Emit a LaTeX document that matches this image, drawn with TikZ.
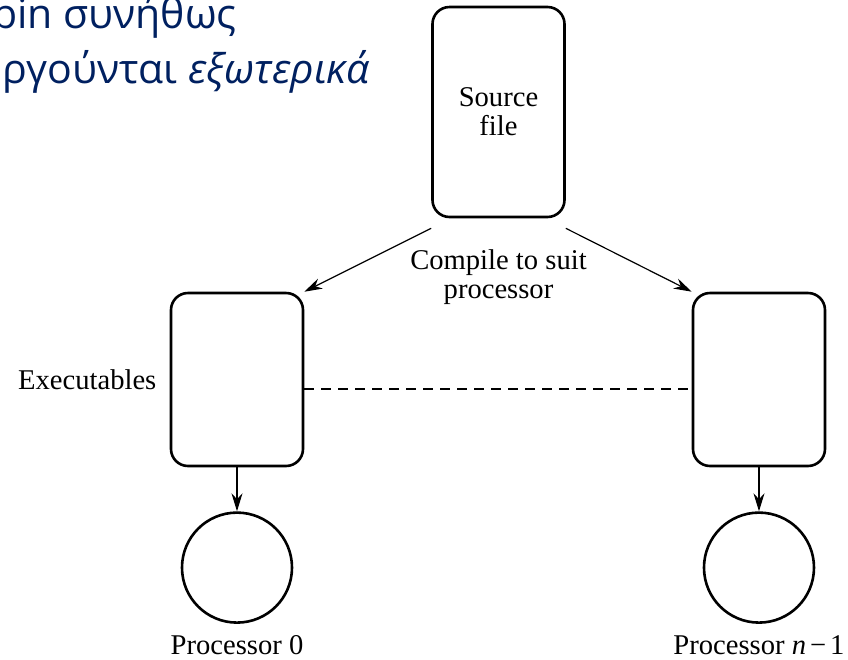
\documentclass[tikz,border=0pt]{standalone}
\usepackage{fontspec}
\usepackage{xcolor}
\usepackage{tikz}
\usetikzlibrary{arrows.meta, positioning}
\setmainfont{Liberation Serif}
\newfontfamily\slidefont{Open Sans}
\definecolor{slideblue}{RGB}{0,32,96}

\begin{document}
\begin{tikzpicture}[x=1pt, y=1pt, font=\fontsize{14.3}{14.5}\selectfont,
    bx/.style={draw, line width=1.3pt, rounded corners=8.5pt, minimum width=66pt, minimum height=86.5pt, inner sep=0pt},
    pr/.style={draw, circle, line width=1.3pt, minimum size=55pt, inner sep=0pt},
    lbl/.style={inner sep=0pt},
    arr/.style={-{Stealth[length=9pt, width=5.5pt]}, line width=0.6pt}]
    \useasboundingbox (0,0) rectangle (424,-330);
    % slide text behind the figure
    \node[lbl, anchor=base east, text=slideblue, font=\slidefont\fontsize{20.5}{22}\selectfont] (t1) at (118.5,-14) {bin συνήθως};
    \node[lbl, anchor=base west, text=slideblue, font=\slidefont\fontsize{20.5}{22}\selectfont] (t2) at (1,-41.5) {ργούνται \textit{εξωτερικά}};
    % figure
    \node[bx, minimum height=105pt, align=center] (src) at (249.25,-56) {Source\\file};
    \node[bx] (ex0) at (118.5,-189.75) {};
    \node[bx] (ex1) at (379.5,-189.75) {};
    \node[lbl, align=center, below=15.7pt of src] (cmp) {Compile to suit\\processor};
    \node[lbl, left=6.5pt of ex0] (exe) {Executables};
    \node[pr, below=22pt of ex0] (p0) {};
    \node[pr, below=22pt of ex1] (p1) {};
    \node[lbl, below=5.5pt of p0] (l0) {Processor 0};
    \node[lbl, below=5.5pt of p1] (l1) {Processor \textit{n}\hspace{2pt}−\hspace{2pt}1};
    \draw[arr] ([yshift=-5pt]src.south west) -- (ex0.north east);
    \draw[arr] ([yshift=-5pt]src.south east) -- (ex1.north west);
    \draw[arr] (ex0) -- (p0);
    \draw[arr] (ex1) -- (p1);
    \draw[line width=0.6pt, dash pattern=on 5pt off 3.5pt] ([yshift=-4.75pt]ex0.east) -- ([yshift=-4.75pt]ex1.west);
\end{tikzpicture}
\end{document}
